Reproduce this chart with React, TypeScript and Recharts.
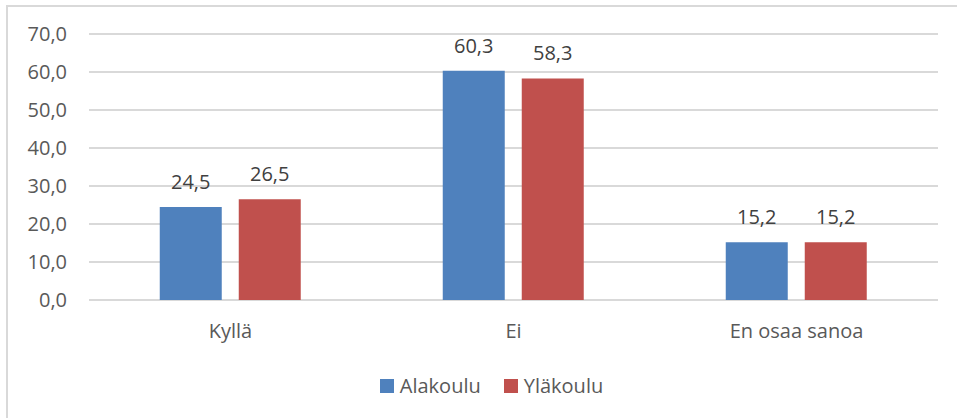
import { BarChart, Bar, XAxis, YAxis, CartesianGrid, LabelList } from 'recharts'

const categories = ['Kyllä', 'Ei', 'En osaa sanoa']
const alakoulu = [24.5, 60.3, 15.2]
const ylakoulu = [26.5, 58.3, 15.2]
const yTicks = [0, 10, 20, 30, 40, 50, 60, 70]

const series = [
  { key: 'alakoulu', name: 'Alakoulu', color: '#4F81BD' },
  { key: 'ylakoulu', name: 'Yläkoulu', color: '#C0504D' },
]

const data = categories.map((name, i) => ({
  name,
  alakoulu: alakoulu[i],
  ylakoulu: ylakoulu[i],
}))

const FONT = '"Open Sans", sans-serif'
const fmt = (v: number) => v.toFixed(1).replace('.', ',')

function ChartLegend() {
  return (
    <div
      style={{
        position: 'absolute',
        top: 372,
        left: 13,
        width: 957,
        display: 'flex',
        justifyContent: 'center',
        gap: 23,
        fontFamily: FONT,
        fontSize: 20,
        color: '#595959',
      }}
    >
      {series.map((s) => (
        <div key={s.key} style={{ display: 'flex', alignItems: 'center' }}>
          <span style={{ width: 14, height: 14, background: s.color, marginRight: 6, display: 'inline-block' }} />
          {s.name}
        </div>
      ))}
    </div>
  )
}

export default function App() {
  return (
    <div style={{ position: 'absolute', left: 0, top: 0, width: 957, height: 418, overflow: 'hidden', background: '#fff' }}>
      <div
        style={{
          position: 'absolute',
          left: 6,
          top: 5,
          width: 970,
          height: 430,
          border: '2px solid #D9D9D9',
          boxSizing: 'border-box',
        }}
      />
      <BarChart
        width={957}
        height={418}
        data={data}
        margin={{ top: 34, right: 19, bottom: 88, left: 0 }}
        barCategoryGap="25%"
        barGap={17}
      >
        <CartesianGrid vertical={false} stroke="#D9D9D9" strokeWidth={2} />
        <XAxis
          dataKey="name"
          height={30}
          axisLine={false}
          tickLine={false}
          tickSize={0}
          tickMargin={24}
          tick={{ fontFamily: FONT, fontSize: 20, fill: '#595959' }}
        />
        <YAxis
          width={89}
          domain={[0, 70]}
          ticks={yTicks}
          tickFormatter={fmt}
          axisLine={false}
          tickLine={false}
          tickSize={0}
          tickMargin={22}
          tick={{ fontFamily: FONT, fontSize: 20, fill: '#595959' }}
        />
        {series.map((s) => (
          <Bar key={s.key} dataKey={s.key} name={s.name} fill={s.color} isAnimationActive={false}>
            <LabelList
              dataKey={s.key}
              position="top"
              offset={18}
              formatter={(v: any) => fmt(Number(v))}
              style={{ fontFamily: FONT, fontSize: 20, fill: '#404040' }}
            />
          </Bar>
        ))}
      </BarChart>
      <ChartLegend />
    </div>
  )
}
